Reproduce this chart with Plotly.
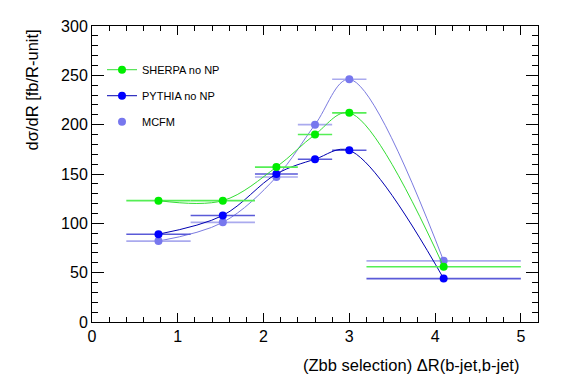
import plotly.graph_objects as go

# Data
bin_lo = [0.4, 1.15, 1.9, 2.4, 2.8, 3.2]
bin_hi = [1.15, 1.9, 2.4, 2.8, 3.2, 5.0]
x_centers = [(a + b) / 2 for a, b in zip(bin_lo, bin_hi)]
x_half = [(b - a) / 2 for a, b in zip(bin_lo, bin_hi)]

sherpa = [123, 123, 157, 190, 212, 56]
pythia = [89, 108, 150, 165, 174, 44]
mcfm = [82, 101, 147, 200, 246, 62]

x_tickvals = [0, 1, 2, 3, 4, 5]
y_tickvals = [0, 50, 100, 150, 200, 250, 300]

FONT = "Liberation Sans, Arial, Helvetica, sans-serif"

# page body has an 8px margin; plot area target in screen px: x 92..538, y 18..322
OFF = 8
L, R, T, B = 92 - OFF, 567 - (538 - OFF), 18 - OFF, 384 - (322 - OFF)
PW, PH = 538 - 92, 322 - 18

fig = go.Figure()

# MCFM: curve (no legend) + markers
fig.add_trace(go.Scatter(
    x=x_centers, y=mcfm, mode="lines", line=dict(color="#7b7be0", width=1, shape="spline", smoothing=1.0),
    showlegend=False, hoverinfo="skip"))
fig.add_trace(go.Scatter(
    x=x_centers, y=mcfm, mode="markers", name="MCFM", legendgroup="c", legendrank=3,
    marker=dict(color="#7777ee", size=8),
    error_x=dict(type="data", array=x_half, width=0, thickness=1.6, color="#aaaaee")))

# PYTHIA
fig.add_trace(go.Scatter(
    x=x_centers, y=pythia, mode="lines+markers", name="PYTHIA no NP", legendgroup="b", legendrank=2,
    line=dict(color="#0000b0", width=1, shape="spline", smoothing=1.0),
    marker=dict(color="#0000ff", size=8),
    error_x=dict(type="data", array=x_half, width=0, thickness=1.6, color="#5a5ad8")))

# SHERPA
fig.add_trace(go.Scatter(
    x=x_centers, y=sherpa, mode="lines+markers", name="SHERPA no NP", legendgroup="a", legendrank=1,
    line=dict(color="#33dd33", width=1, shape="spline", smoothing=1.0),
    marker=dict(color="#00ee00", size=8),
    error_x=dict(type="data", array=x_half, width=0, thickness=1.6, color="#55ee55")))

axis_common = dict(
    showgrid=False, zeroline=False, showline=True, linecolor="black", linewidth=1,
    mirror="ticks", ticks="inside", tickcolor="black",
    tickfont=dict(family=FONT, size=16, color="black"),
)

fig.update_xaxes(
    range=[0, 5.2], tickvals=x_tickvals, ticklen=9,
    minor=dict(dtick=0.2, ticklen=5, ticks="inside", tickcolor="black", showgrid=False),
    **axis_common)
fig.update_yaxes(
    range=[0, 300], tickvals=y_tickvals, ticklen=12,
    minor=dict(dtick=10, ticklen=6, ticks="inside", tickcolor="black", showgrid=False),
    **axis_common)

fig.add_annotation(
    text="(Zbb selection) ΔR(b-jet,b-jet)", xref="paper", yref="paper",
    x=(521 - 92) / PW, y=-(366 - 322) / PH, xanchor="right", yanchor="middle",
    showarrow=False, font=dict(family=FONT, size=16.5, color="black"))
fig.add_annotation(
    text="dσ/dR [fb/R-unit]", xref="paper", yref="paper", textangle=-90,
    x=-(92 - 32) / PW, y=1 - (20 - 18) / PH, xanchor="center", yanchor="top",
    showarrow=False, font=dict(family=FONT, size=16.5, color="black"))

fig.update_layout(
    width=567, height=384,
    margin=dict(l=L, r=R, t=T, b=B),
    paper_bgcolor="white", plot_bgcolor="white",
    showlegend=True,
    legend=dict(
        x=(102 - 92) / PW, y=1 - (48 - 18) / PH, xanchor="left", yanchor="top",
        bgcolor="rgba(0,0,0,0)", traceorder="grouped", tracegroupgap=7,
        font=dict(family=FONT, size=11, color="black"),
        itemwidth=30,
    ),
)

fig.write_html("out.html")
